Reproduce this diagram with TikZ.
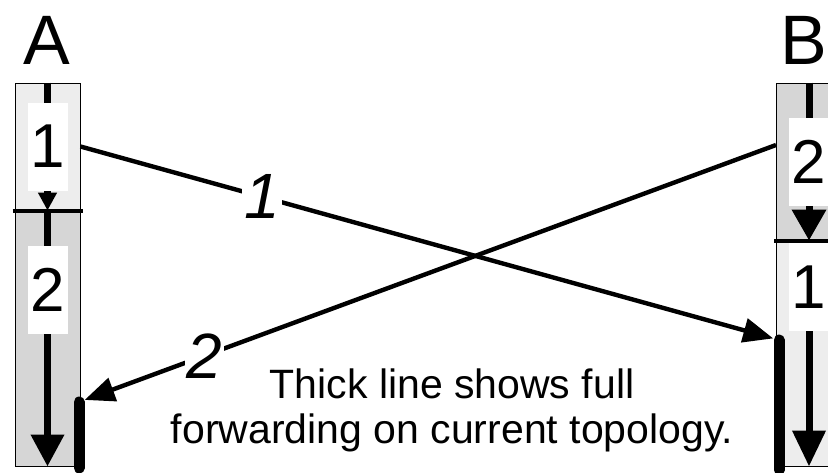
\documentclass[tikz,border=0pt]{standalone}
\usepackage{fontspec}
\setmainfont{Liberation Sans}
\usetikzlibrary{arrows.meta, positioning, calc}

\begin{document}
\begin{tikzpicture}[
    x=0.5pt, y=-0.5pt,
    seglight/.style={rectangle, draw=black, line width=0.5pt, fill=gray!14, minimum width=32.5pt, inner sep=0pt},
    segdense/.style={seglight, fill=gray!32},
    host/.style={font=\fontsize{35}{40}\selectfont},
    num/.style={fill=white, inner sep=0pt, minimum width=20pt, minimum height=44pt, font=\fontsize{31}{34}\selectfont},
    tag/.style={fill=white, inner sep=1pt, font=\fontsize{32}{34}\selectfont\itshape},
    flow/.style={line width=3.5pt},
    cross/.style={line width=2.2pt, shorten >=3pt, -{Triangle[length=15pt, width=12pt]}},
    divider/.style={line width=2pt},
    full/.style={line width=5.5pt, line cap=round}
]
\useasboundingbox (0,0) rectangle (828,472);
\clip (0,0) rectangle (828,472);

    % Router A
    \node[host] (hostA) at (47,40) {A};
    \node[seglight, minimum height=63.5pt] (a1) at (47.5,146.5) {};
    \node[segdense, minimum height=127.5pt, below=0pt of a1] (a2) {};

    % Router B
    \node[host] (hostB) at (804,40) {B};
    \node[segdense, minimum height=78.5pt] (b1) at (809,161.5) {};
    \node[seglight, minimum height=112.5pt, below=0pt of b1] (b2) {};

    % Forwarding inside the routers
    \draw[flow, -{Triangle[length=9pt, width=9pt]}] (a1.north) -- (a1.south) node[num, pos=0.5] (a1num) {1};
    \draw[flow, -{Triangle[length=16pt, width=16pt]}] (a2.north) -- (a2.south) node[num, pos=0.31] (a2num) {2};
    \draw[flow, -{Triangle[length=15.5pt, width=16.5pt]}] (b1.north) -- (b1.south) node[num, pos=0.5] (b1num) {2};
    \draw[flow, -{Triangle[length=18pt, width=16pt]}] (b2.north) -- (b2.south) node[num, pos=0.205] (b2num) {1};

    % Dividers
    \draw[divider] ([xshift=-1pt]a1.south west) -- ([xshift=1pt]a1.south east);
    \draw[divider] ([xshift=-1pt]b1.south west) -- ([xshift=1pt]b1.south east);

    % Full forwarding
    \coordinate (fullA1) at (79,402);
    \coordinate (fullA2) at (79,468);
    \coordinate (fullB1) at (779,340);
    \coordinate (fullB2) at (779,470);
    \draw[full] (fullA1) -- (fullA2);
    \draw[full] (fullB1) -- (fullB2);

    % Connections
    \draw[cross] (a1.east) -- (fullB1) node[tag, pos=0.26] (tag1) {1};
    \draw[cross] ([yshift=8.25pt]b1.west) -- (fullA1) node[tag, pos=0.82] (tag2) {2};

    % Note
    \node[font=\fontsize{20.5}{22.5}\selectfont, align=center] (note) at (452,410) {Thick line shows full\\forwarding on current topology.};

\end{tikzpicture}
\end{document}
